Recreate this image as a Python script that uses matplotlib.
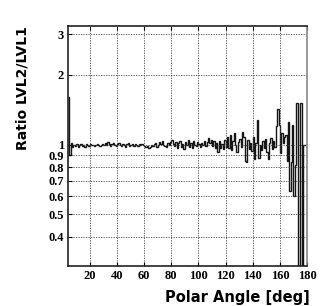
import numpy as np
import matplotlib
matplotlib.use("Agg")
import matplotlib.pyplot as plt
from matplotlib.ticker import FixedLocator, NullFormatter, NullLocator

# ratio per 1-degree bin, bins start at 4 deg
angle_start = 4
ratio = [
    1.60, 0.90,
    1.02, 0.98, 1.00, 0.99, 1.01, 0.98, 1.00, 1.01, 0.99, 1.00, 0.98, 1.01, 1.00, 0.99, 1.01,
    1.00, 1.00, 0.99, 1.00, 1.01, 1.00, 0.99, 1.00, 1.01, 1.00, 1.02, 1.00, 1.03, 1.01, 0.99, 1.01, 1.02, 1.00, 0.99, 1.01,
    1.02, 1.00, 0.99, 1.01, 1.00, 0.98, 1.01, 1.02, 0.99, 1.00, 1.01, 0.99, 1.01, 1.00, 0.99, 1.01, 1.00, 1.01, 1.00, 0.99,
    0.98, 0.99, 0.97, 0.98, 1.00, 0.99, 1.01, 1.02, 0.98, 1.00, 1.03, 1.01, 1.04, 1.00, 0.99, 0.98, 1.02, 1.00, 1.03, 1.05,
    1.01, 0.99, 1.03, 0.97, 1.02, 1.04, 0.98, 1.01, 0.96, 1.03, 1.00, 1.05, 0.98, 1.02, 0.97, 1.04, 1.00, 0.99, 1.03, 1.01,
    0.98, 1.02, 1.00, 1.04, 0.99, 1.03, 1.07, 1.02, 1.05, 0.99, 1.04, 0.97, 1.02, 0.93, 1.04, 0.97, 1.01, 0.96, 1.05, 0.98,
    1.08, 0.97, 1.10, 0.95, 1.04, 1.12, 1.00, 0.93, 1.03, 1.06, 0.98, 1.13, 1.08, 0.85, 0.84, 1.05, 0.96, 1.02, 0.94, 1.08,
    0.87, 1.02, 1.28, 0.88, 1.00, 0.95, 1.04, 0.97, 1.06, 0.93, 0.87, 1.02, 1.07, 0.96, 1.04, 0.98, 1.20, 1.42, 1.22, 0.92,
    1.12, 1.02, 1.08, 1.10, 0.85, 1.25, 0.63, 0.84, 1.22, 0.60, 0.82, 1.52, 0.01, 0.01, 1.52, 0.01, 1.00, 1.00, 1.00,
]
x_ticks = [20, 40, 60, 80, 100, 120, 140, 160, 180]
y_ticks = [0.4, 0.5, 0.6, 0.7, 0.8, 0.9, 1, 2, 3]
y_labels = ["0.4", "0.5", "0.6", "0.7", "0.8", "0.9", "1", "2", "3"]

edges = np.arange(angle_start, angle_start + len(ratio) + 1)

fig = plt.figure(figsize=(3.27, 3.06), dpi=100)
ax = fig.add_axes([0.208, 0.131, 0.731, 0.784])

ax.stairs(ratio, edges, color="#151515", linewidth=1.0, baseline=None)

ax.set_yscale("log")
ax.set_xlim(angle_start, 180)
ax.set_ylim(0.30, 3.25)

ax.yaxis.set_major_locator(FixedLocator(y_ticks))
ax.yaxis.set_minor_locator(NullLocator())
ax.yaxis.set_minor_formatter(NullFormatter())
ax.set_yticks(y_ticks)
ax.set_yticklabels(y_labels)
ax.set_xticks(x_ticks)

ax.grid(True, color="#444444", linestyle=(0, (1.5, 1.5)), linewidth=0.6)

for lab in ax.get_xticklabels() + ax.get_yticklabels():
    lab.set_fontfamily("Liberation Serif")
    lab.set_fontweight("bold")
    lab.set_fontsize(9)
ax.tick_params(direction="in", length=3, width=0.8, pad=3, top=True)

for s in ax.spines.values():
    s.set_linewidth(1.2)
    s.set_color("#222222")
ax.spines["right"].set_color("#888888")

ax.set_ylabel("Ratio LVL2/LVL1", fontfamily="DejaVu Sans", fontweight="heavy", fontsize=10)
ax.yaxis.set_label_coords(-0.16, 0.74)
ax.set_xlabel("Polar Angle [deg]", fontfamily="DejaVu Sans", fontweight="heavy", fontsize=10.5)
ax.xaxis.set_label_coords(1.01, -0.10)
ax.xaxis.label.set_horizontalalignment("right")

fig.savefig("out.png", dpi=100)
